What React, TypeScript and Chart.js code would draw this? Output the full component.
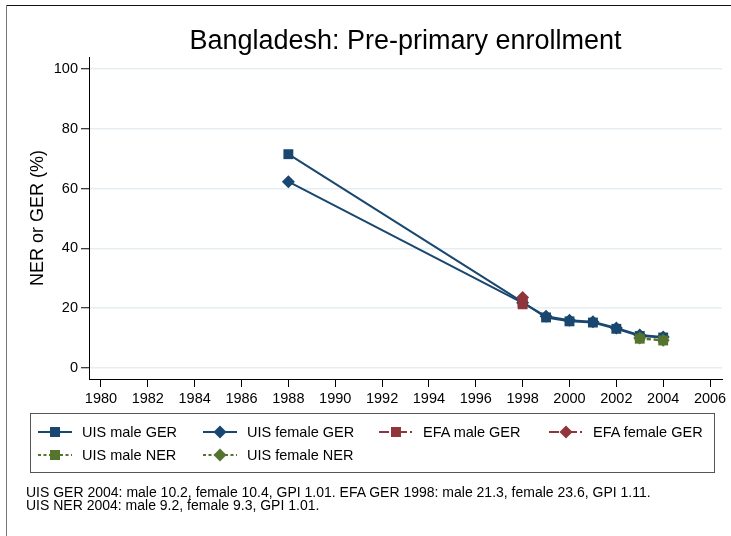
import React, { useEffect, useRef } from "react";
import { Chart, registerables } from "chart.js";

Chart.register(...registerables);

// ---- Data ----
const uisYears = [1988, 1998, 1999, 2000, 2001, 2002, 2003, 2004];
const uisMaleGER = [71.5, 22.0, 16.9, 15.6, 15.2, 13.1, 10.7, 10.2];
const uisFemaleGER = [62.3, 21.8, 17.3, 16.0, 15.5, 13.4, 11.0, 10.4];
const efaYears = [1998];
const efaMaleGER = [21.3];
const efaFemaleGER = [23.6];
const nerYears = [2003, 2004];
const uisMaleNER = [9.8, 9.2];
const uisFemaleNER = [10.0, 9.3];
const xTickValues = [1980, 1982, 1984, 1986, 1988, 1990, 1992, 1994, 1996, 1998, 2000, 2002, 2004, 2006];
const yTickValues = [0, 20, 40, 60, 80, 100];

const titleText = "Bangladesh: Pre-primary enrollment";
const yTitleText = "NER or GER (%)";
const noteLines = [
  "UIS GER 2004: male 10.2, female 10.4, GPI 1.01. EFA GER 1998: male 21.3, female 23.6, GPI 1.11.",
  "UIS NER 2004: male 9.2, female 9.3, GPI 1.01.",
];

const NAVY = "#1a476f";
const MAROON = "#90353b";
const GREEN = "#55752f";
const FONT = "'Liberation Sans', Arial, Helvetica, sans-serif";

const toPts = (xs: number[], ys: number[]) => xs.map((x, i) => ({ x, y: ys[i] }));

type LegendItem = { label: string; color: string; dash?: string; marker: "square" | "diamond" };
const legendItems: LegendItem[] = [
  { label: "UIS male GER", color: NAVY, marker: "square" },
  { label: "UIS female GER", color: NAVY, marker: "diamond" },
  { label: "EFA male GER", color: MAROON, dash: "10 3 2 3", marker: "square" },
  { label: "EFA female GER", color: MAROON, dash: "10 3 2 3", marker: "diamond" },
  { label: "UIS male NER", color: GREEN, dash: "3 2.5", marker: "square" },
  { label: "UIS female NER", color: GREEN, dash: "3 2.5", marker: "diamond" },
];
const legendCols = [38, 203, 379, 549];
const legendTextOffset = 44;
const legendRows = [432, 454.5];

function Symbol({ item, left, top }: { item: LegendItem; left: number; top: number }) {
  return (
    <svg width={34} height={14} style={{ position: "absolute", left, top }}>
      <line x1={0} y1={7} x2={34} y2={7} stroke={item.color} strokeWidth={2} strokeDasharray={item.dash} />
      {item.marker === "square" ? (
        <rect x={12} y={2} width={10} height={10} fill={item.color} />
      ) : (
        <polygon points="17,0.5 23.5,7 17,13.5 10.5,7" fill={item.color} />
      )}
    </svg>
  );
}

export default function App() {
  const ref = useRef<HTMLCanvasElement | null>(null);

  useEffect(() => {
    if (!ref.current) return;
    const common = { borderWidth: 2, pointBorderWidth: 0, fill: false, tension: 0 };
    const chart = new Chart(ref.current, {
      type: "line",
      data: {
        datasets: [
          {
            ...common,
            label: "UIS male GER",
            order: 5,
            data: toPts(uisYears, uisMaleGER),
            borderColor: NAVY,
            backgroundColor: NAVY,
            pointStyle: "rect",
            pointRadius: 7,
          },
          {
            ...common,
            label: "UIS female GER",
            order: 4,
            data: toPts(uisYears, uisFemaleGER),
            borderColor: NAVY,
            backgroundColor: NAVY,
            pointStyle: "rectRot",
            pointRadius: 6.5,
          },
          {
            ...common,
            label: "EFA male GER",
            order: 3,
            data: toPts(efaYears, efaMaleGER),
            borderColor: MAROON,
            backgroundColor: MAROON,
            pointStyle: "rect",
            pointRadius: 7,
          },
          {
            ...common,
            label: "EFA female GER",
            order: 2,
            data: toPts(efaYears, efaFemaleGER),
            borderColor: MAROON,
            backgroundColor: MAROON,
            pointStyle: "rectRot",
            pointRadius: 6.5,
          },
          {
            ...common,
            label: "UIS male NER",
            order: 1,
            data: toPts(nerYears, uisMaleNER),
            borderColor: GREEN,
            backgroundColor: GREEN,
            borderDash: [4, 3],
            pointStyle: "rect",
            pointRadius: 7,
          },
          {
            ...common,
            label: "UIS female NER",
            order: 0,
            data: toPts(nerYears, uisFemaleNER),
            borderColor: GREEN,
            backgroundColor: GREEN,
            borderDash: [4, 3],
            pointStyle: "rectRot",
            pointRadius: 6.5,
          },
        ],
      },
      options: {
        responsive: false,
        animation: false,
        devicePixelRatio: 1,
        events: [],
        layout: { padding: { left: 0, right: 9, top: 0, bottom: 117 } },
        plugins: {
          legend: { display: false },
          tooltip: { enabled: false },
          title: {
            display: true,
            text: titleText,
            color: "#000",
            fullSize: false,
            font: { family: FONT, size: 27, weight: "normal", lineHeight: 1 },
            padding: { top: 28.5, bottom: 1.5 },
          },
        },
        scales: {
          x: {
            type: "linear",
            min: 1979.49,
            max: 2006.51,
            afterBuildTicks: (s: any) => {
              s.ticks = xTickValues.map((v) => ({ value: v }));
            },
            afterFit: (s: any) => {
              s.height = 40;
            },
            grid: { drawOnChartArea: false, drawTicks: true, tickLength: 8, tickColor: "#000", tickWidth: 1 },
            border: { color: "#000", width: 1 },
            ticks: {
              color: "#000",
              font: { family: FONT, size: 14.5 },
              padding: 3,
              maxRotation: 0,
              autoSkip: false,
              callback: (v: any) => String(v),
            },
          },
          y: {
            type: "linear",
            min: -3.68,
            max: 104,
            afterBuildTicks: (s: any) => {
              s.ticks = yTickValues.map((v) => ({ value: v }));
            },
            afterFit: (s: any) => {
              s.width = 89;
            },
            grid: { color: "#e6eef1", lineWidth: 1.5, tickLength: 8, tickColor: "#000", tickWidth: 1 },
            border: { color: "#000", width: 1 },
            title: {
              display: true,
              text: yTitleText,
              color: "#000",
              font: { family: FONT, size: 18 },
              padding: { top: 27, bottom: 0 },
            },
            ticks: {
              color: "#000",
              font: { family: FONT, size: 14.5 },
              padding: 3,
              callback: (v: any) => String(v),
            },
          },
        },
      },
    } as any);
    return () => chart.destroy();
  }, []);

  return (
    <div style={{ position: "absolute", left: 0, top: 0, width: 731, height: 536, background: "#fff", overflow: "hidden", fontFamily: FONT }}>
      <canvas ref={ref} width={731} height={536} style={{ position: "absolute", left: 0, top: 0, width: 731, height: 536 }} />
      <div style={{ position: "absolute", left: 6, top: 5, width: 725, height: 1, background: "#111" }} />
      <div style={{ position: "absolute", left: 6, top: 5, width: 1, height: 531, background: "#777" }} />
      <div style={{ position: "absolute", left: 30, top: 413, width: 683, height: 58, border: "1px solid #555" }} />
      {legendItems.map((item, i) => {
        const col = i % 4;
        const row = Math.floor(i / 4);
        const x = legendCols[col];
        const y = legendRows[row];
        return (
          <React.Fragment key={item.label}>
            <Symbol item={item} left={x} top={y - 7} />
            <span style={{ position: "absolute", left: x + legendTextOffset, top: y - 9, fontSize: 14.5, lineHeight: "18px", color: "#000", whiteSpace: "nowrap" }}>
              {item.label}
            </span>
          </React.Fragment>
        );
      })}
      <div style={{ position: "absolute", left: 26, top: 485.5, fontSize: 14, lineHeight: "13px", color: "#000", whiteSpace: "pre" }}>
        {noteLines.map((l) => (
          <div key={l}>{l}</div>
        ))}
      </div>
    </div>
  );
}
